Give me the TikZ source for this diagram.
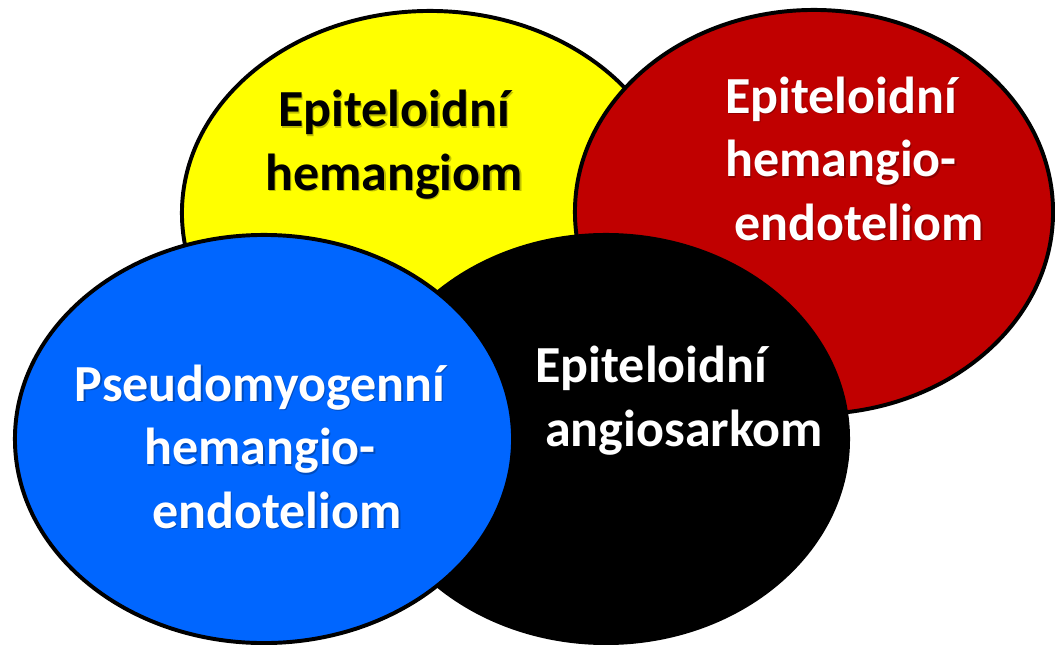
\documentclass[tikz,border=0pt]{standalone}
\usepackage{fontspec}
\setmainfont{Carlito}
\usepackage{xcolor}
\definecolor{cYellow}{HTML}{FFFF00}
\definecolor{cRed}{HTML}{C00000}
\definecolor{cBlue}{HTML}{0066FF}
\definecolor{cBlack}{HTML}{000000}
\usepackage{tikz}
\usetikzlibrary{positioning,shapes.geometric,calc}
\tikzset{
  node-oval/.style={draw=black,line width=2.8pt,ellipse,inner sep=0pt},
  node-label/.style={font=\bfseries\fontsize{37}{45}\selectfont,inner sep=0pt,anchor=base},
  node-shadow/.style={node-label,text=black,opacity=.25,shift={(1.5,1.5)}},
}
% text with a soft drop shadow: name, position (last baseline), options, colour, text
\newcommand\ovallabel[5]{%
  \node[node-shadow,#3] at (#2) {#5};
  \node[node-label,#3,text=#4] (#1) at (#2) {#5};
}

\begin{document}
\begin{tikzpicture}[x=0.025cm,y=-0.025cm]
  \useasboundingbox (0,0) rectangle (1055,645);
  \node[node-oval,fill=cYellow,minimum width=12.4cm,minimum height=10.1cm] (yel) at (430,213) {};
  \node[node-oval,fill=cRed,minimum width=11.95cm,minimum height=10.1cm] (red) at (814,212) {};
  \node[node-oval,fill=cBlack,minimum width=12.1cm,minimum height=10.2cm] (blk) at (606,439) {};
  \node[node-oval,fill=cBlue,minimum width=12.45cm,minimum height=10.2cm] (blu) at (264,439) {};
  \ovallabel{t-yel}{$(yel)+(-36,-23)$}{align=center}{black}{Epiteloidní\\hemangiom}
  \ovallabel{t-red}{$(red)+(27,28)$}{align=center}{white}{Epiteloidní\\hemangio-\\\hspace*{0.9cm}endoteliom}
  \ovallabel{t-blk}{$(blk)+(-71,7)$}{align=left,anchor=base west}{white}{Epiteloidní\\\hspace*{0.25cm}angiosarkom}
  \ovallabel{t-blu}{$(blu)+(-4,89)$}{align=center}{white}{Pseudomyogenní\\hemangio-\\\hspace*{0.85cm}endoteliom}
\end{tikzpicture}
\end{document}
